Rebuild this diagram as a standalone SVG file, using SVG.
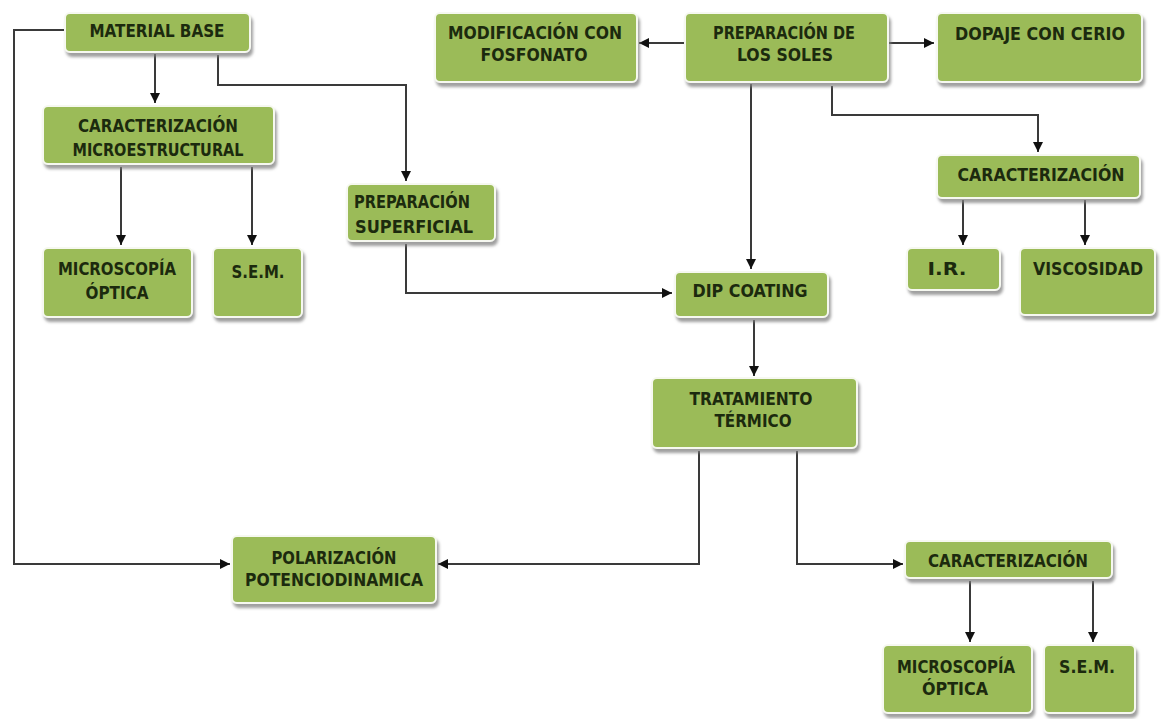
<svg xmlns="http://www.w3.org/2000/svg" width="1162" height="719" viewBox="0 0 1162 719">
<style>
.box{fill:#9bbb59;stroke:#f6f8f0;stroke-width:2;filter:url(#sh)}
.t{font-family:"DejaVu Sans Condensed","DejaVu Sans","Liberation Sans",sans-serif;font-weight:bold;font-size:17px;fill:#1c2a0e;text-anchor:middle}
.ca{fill:none;stroke:#3a3a3a;stroke-width:2;marker-end:url(#ah)}
</style>
<defs>
<filter id="sh" x="-10%" y="-20%" width="125%" height="150%">
<feDropShadow dx="2" dy="4" stdDeviation="1.5" flood-color="#808080" flood-opacity="0.75"/>
</filter>
<marker id="ah" viewBox="0 0 10 10" refX="10" refY="5" markerWidth="5" markerHeight="5" orient="auto" markerUnits="strokeWidth">
<path d="M0,0 L10,5 L0,10 z" fill="#111"/>
</marker>
</defs>
<rect width="1162" height="719" fill="#ffffff"/>
<g id="connectors">
<path class="ca" d="M66,30 H14 V564 H230"/>
<path class="ca" d="M155,54 V103"/>
<path class="ca" d="M218,55 V85 H406 V181"/>
<path class="ca" d="M121,167 V245"/>
<path class="ca" d="M252,167 V245"/>
<path class="ca" d="M406,244 V293 H672"/>
<path class="ca" d="M684,43 H639"/>
<path class="ca" d="M889,43 H934"/>
<path class="ca" d="M751,84 V269"/>
<path class="ca" d="M832,86 V115 H1038 V152"/>
<path class="ca" d="M963,200 V245"/>
<path class="ca" d="M1085,200 V245"/>
<path class="ca" d="M754,320 V376"/>
<path class="ca" d="M699,451 V564 H438"/>
<path class="ca" d="M797,451 V564 H903"/>
<path class="ca" d="M970,581 V642"/>
<path class="ca" d="M1093,581 V642"/>
</g>
<g id="material-base"><rect class="box" x="65" y="13" width="185" height="39" rx="5"/><text class="t" x="157" y="37" textLength="135" lengthAdjust="spacingAndGlyphs">MATERIAL BASE</text></g>
<g id="caract-micro"><rect class="box" x="43" y="106" width="231" height="58" rx="5"/><text class="t" x="158" y="132" textLength="160" lengthAdjust="spacingAndGlyphs">CARACTERIZACIÓN</text><text class="t" x="158" y="156" textLength="171" lengthAdjust="spacingAndGlyphs">MICROESTRUCTURAL</text></g>
<g id="microscopia-1"><rect class="box" x="43" y="248" width="149" height="69" rx="5"/><text class="t" x="117" y="275" textLength="118" lengthAdjust="spacingAndGlyphs">MICROSCOPÍA</text><text class="t" x="117" y="299" textLength="63" lengthAdjust="spacingAndGlyphs">ÓPTICA</text></g>
<g id="sem-1"><rect class="box" x="213" y="248" width="89" height="69" rx="5"/><text class="t" x="258" y="278" textLength="53" lengthAdjust="spacingAndGlyphs">S.E.M.</text></g>
<g id="prep-superficial"><rect class="box" x="347" y="184" width="148" height="57" rx="5"/><text class="t" x="412" y="208" textLength="116" lengthAdjust="spacingAndGlyphs">PREPARACIÓN</text><text class="t" x="414" y="233" textLength="118" lengthAdjust="spacingAndGlyphs">SUPERFICIAL</text></g>
<g id="fosfonato"><rect class="box" x="435" y="13" width="202" height="69" rx="5"/><text class="t" x="535" y="39" textLength="174" lengthAdjust="spacingAndGlyphs">MODIFICACIÓN CON</text><text class="t" x="534" y="61" textLength="107" lengthAdjust="spacingAndGlyphs">FOSFONATO</text></g>
<g id="soles"><rect class="box" x="685" y="13" width="203" height="69" rx="5"/><text class="t" x="784" y="39" textLength="142" lengthAdjust="spacingAndGlyphs">PREPARACIÓN DE</text><text class="t" x="785" y="61" textLength="96" lengthAdjust="spacingAndGlyphs">LOS SOLES</text></g>
<g id="dopaje"><rect class="box" x="937" y="13" width="205" height="69" rx="5"/><text class="t" x="1040" y="40" textLength="170" lengthAdjust="spacingAndGlyphs">DOPAJE CON CERIO</text></g>
<g id="caract-soles"><rect class="box" x="937" y="155" width="203" height="43" rx="5"/><text class="t" x="1041" y="181" textLength="167" lengthAdjust="spacingAndGlyphs">CARACTERIZACIÓN</text></g>
<g id="ir"><rect class="box" x="907" y="248" width="93" height="42" rx="5"/><text class="t" x="947" y="275" textLength="39" lengthAdjust="spacingAndGlyphs">I.R.</text></g>
<g id="viscosidad"><rect class="box" x="1020" y="248" width="135" height="67" rx="5"/><text class="t" x="1088" y="275" textLength="110" lengthAdjust="spacingAndGlyphs">VISCOSIDAD</text></g>
<g id="dip-coating"><rect class="box" x="675" y="272" width="153" height="45" rx="5"/><text class="t" x="750" y="297" textLength="115" lengthAdjust="spacingAndGlyphs">DIP COATING</text></g>
<g id="tratamiento"><rect class="box" x="652" y="378" width="205" height="70" rx="5"/><text class="t" x="751" y="405" textLength="123" lengthAdjust="spacingAndGlyphs">TRATAMIENTO</text><text class="t" x="753" y="427" textLength="77" lengthAdjust="spacingAndGlyphs">TÉRMICO</text></g>
<g id="polarizacion"><rect class="box" x="232" y="536" width="204" height="67" rx="5"/><text class="t" x="334" y="564" textLength="125" lengthAdjust="spacingAndGlyphs">POLARIZACIÓN</text><text class="t" x="334" y="586" textLength="178" lengthAdjust="spacingAndGlyphs">POTENCIODINAMICA</text></g>
<g id="caract-tt"><rect class="box" x="905" y="541" width="207" height="37" rx="5"/><text class="t" x="1008" y="567" textLength="160" lengthAdjust="spacingAndGlyphs">CARACTERIZACIÓN</text></g>
<g id="microscopia-2"><rect class="box" x="883" y="645" width="149" height="68" rx="5"/><text class="t" x="956" y="673" textLength="118" lengthAdjust="spacingAndGlyphs">MICROSCOPÍA</text><text class="t" x="955" y="695" textLength="66" lengthAdjust="spacingAndGlyphs">ÓPTICA</text></g>
<g id="sem-2"><rect class="box" x="1044" y="645" width="91" height="68" rx="5"/><text class="t" x="1087" y="673" textLength="56" lengthAdjust="spacingAndGlyphs">S.E.M.</text></g>
</svg>
